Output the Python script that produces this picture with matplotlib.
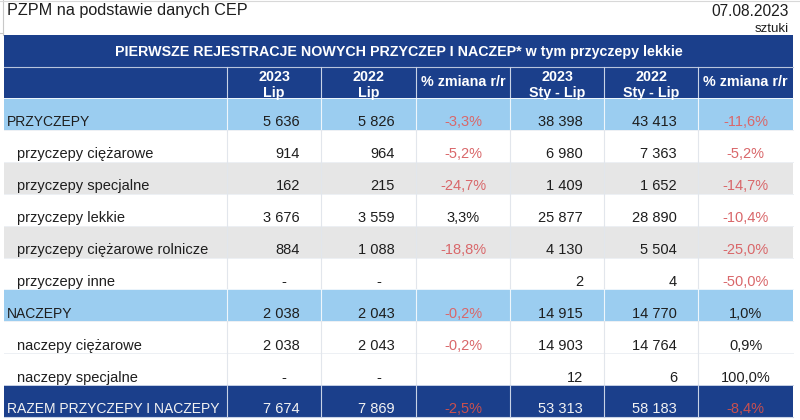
import matplotlib
matplotlib.use("Agg")
import matplotlib.pyplot as plt
from matplotlib.patches import Rectangle

plt.rcParams["font.family"] = ["Liberation Sans", "DejaVu Sans"]

# --- dane ---
title_left = "PZPM na podstawie danych CEP"
date_text = "07.08.2023"
unit_text = "sztuki"
table_title = "PIERWSZE REJESTRACJE NOWYCH PRZYCZEP I NACZEP* w tym przyczepy lekkie"
col_headers = ["2023\nLip", "2022\nLip", "% zmiana r/r", "2023\nSty - Lip", "2022\nSty - Lip", "% zmiana r/r"]

labels = ["PRZYCZEPY", "przyczepy ciężarowe", "przyczepy specjalne", "przyczepy lekkie",
          "przyczepy ciężarowe rolnicze", "przyczepy inne", "NACZEPY", "naczepy ciężarowe",
          "naczepy specjalne", "RAZEM PRZYCZEPY I NACZEPY"]
row_kind = ["group", "sub", "sub", "sub", "sub", "sub", "group", "sub", "sub", "total"]
lip_2023 = [5636, 914, 162, 3676, 884, None, 2038, 2038, None, 7674]
lip_2022 = [5826, 964, 215, 3559, 1088, None, 2043, 2043, None, 7869]
lip_pct = [-3.3, -5.2, -24.7, 3.3, -18.8, None, -0.2, -0.2, None, -2.5]
ytd_2023 = [38398, 6980, 1409, 25877, 4130, 2, 14915, 14903, 12, 53313]
ytd_2022 = [43413, 7363, 1652, 28890, 5504, 4, 14770, 14764, 6, 58183]
ytd_pct = [-11.6, -5.2, -14.7, -10.4, -25.0, -50.0, 1.0, 0.9, 100.0, -8.4]

# --- styl ---
DARK = "#1b3f8b"
LIGHT = "#9bcdf0"
GREY = "#e6e6e6"
RED = "#d9676a"
RED_DARK = "#c9504f"
TXT = "#1e1e1e"
FS = 10.5

col_x = [4, 227, 321, 416, 510, 604, 698, 793]
band_top, band_h = 35, 32
head_top, head_h = 67, 31
rows_top, row_h = 98, 31.9


def fmt_num(v):
    return "-" if v is None else f"{v:,}".replace(",", " ")


def fmt_pct(p):
    return "" if p is None else f"{p:.1f}%".replace(".", ",")


fig = plt.figure(figsize=(8, 4.2), dpi=100)
ax = fig.add_axes([0, 0, 1, 1])
ax.set_xlim(0, 800)
ax.set_ylim(420, 0)
ax.axis("off")

# linie arkusza
ax.plot([3, 3], [0, band_top], color="#c8c8c8", lw=0.8)
ax.plot([0, 800], [1, 1], color="#d8d8d8", lw=0.8)
ax.plot([0, 3], [33, 33], color="#c8c8c8", lw=0.8)

ax.text(7, 15.5, title_left, fontsize=11.7, color=TXT, va="baseline", ha="left")
ax.text(789, 15.5, date_text, fontsize=11.2, color=TXT, va="baseline", ha="right")
ax.text(789, 32, unit_text, fontsize=9.6, color=TXT, va="baseline", ha="right")

# pasek tytulowy
ax.add_patch(Rectangle((col_x[0], band_top), col_x[-1] - col_x[0], band_h, facecolor=DARK, edgecolor="none"))
ax.text((col_x[0] + col_x[-1]) / 2, band_top + band_h / 2 + 1, table_title, fontsize=10.3,
        fontweight="bold", color="white", ha="center", va="center")

# naglowki kolumn
ax.add_patch(Rectangle((col_x[0], head_top), col_x[-1] - col_x[0], head_h, facecolor=DARK, edgecolor="none"))
ax.plot([col_x[0], col_x[-1]], [head_top, head_top], color="#b8c4dc", lw=0.8)
for j, h in enumerate(col_headers):
    cx = (col_x[j + 1] + col_x[j + 2]) / 2
    ax.plot([col_x[j + 1]] * 2, [head_top, head_top + head_h], color="#c8d2e6", lw=0.8)
    lines = h.split("\n")
    if len(lines) == 2:
        ax.text(cx, head_top + 10, lines[0], fontsize=10.3, fontweight="bold", color="white", ha="center", va="center")
        ax.text(cx, head_top + 25.5, lines[1], fontsize=10.3, fontweight="bold", color="white", ha="center", va="center")
    else:
        ax.text(cx, head_top + 15, lines[0], fontsize=10.3, fontweight="bold", color="white", ha="center", va="center")

# wiersze
values = list(zip(lip_2023, lip_2022, lip_pct, ytd_2023, ytd_2022, ytd_pct))
for i, (lab, kind, vals) in enumerate(zip(labels, row_kind, values)):
    top = rows_top + i * row_h
    if kind == "group":
        bg, fg, line = LIGHT, TXT, "#eef6fc"
    elif kind == "total":
        bg, fg, line = DARK, "#f2f2f2", "#c8d2e6"
    else:
        bg = GREY if (i in (2, 4)) else "white"
        fg, line = TXT, "#e2e6ec"
    ax.add_patch(Rectangle((col_x[0], top), col_x[-1] - col_x[0], row_h, facecolor=bg, edgecolor="none"))
    ax.plot([col_x[0], col_x[-1]], [top, top], color=line if kind != "sub" else "#edf0f4", lw=0.7)
    for x in col_x[1:-1]:
        ax.plot([x, x], [top, top + row_h], color=line, lw=0.8)
    base = top + row_h - 3.5
    lx = col_x[0] + 3 if kind != "sub" else col_x[0] + 13
    ax.text(lx, base, lab, fontsize=FS if kind == "sub" else 10.0, color=fg, ha="left", va="baseline")
    for j, v in enumerate(vals):
        left, right = col_x[j + 1], col_x[j + 2]
        if j in (2, 5):
            s = fmt_pct(v)
            if v is not None and v < 0:
                c = RED_DARK if kind == "total" else RED
            else:
                c = fg
            ax.text((left + right) / 2, base, s, fontsize=FS, color=c, ha="center", va="baseline")
        else:
            if v is None:
                ax.text(right - 37, base, "-", fontsize=FS, color=fg, ha="center", va="baseline")
            else:
                ax.text(right - 21, base, fmt_num(v), fontsize=FS, color=fg, ha="right", va="baseline")

bottom = rows_top + len(labels) * row_h
ax.plot([col_x[0], col_x[-1]], [bottom, bottom], color="#c8d2e6", lw=0.8)

fig.savefig("out.png", dpi=100)
